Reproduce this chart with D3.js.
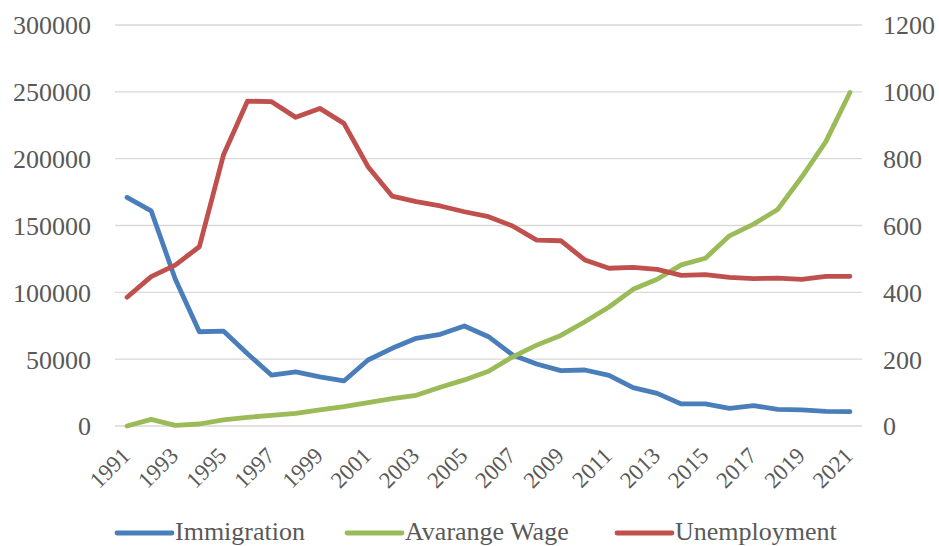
<!DOCTYPE html>
<html><head><meta charset="utf-8">
<script src="https://cdn.jsdelivr.net/npm/d3@7"></script>
<style>
html,body{margin:0;padding:0;background:#fff;}
svg{display:block;}
</style></head>
<body>
<svg id="chart" width="939" height="546"></svg>
<script>
const years = d3.range(1991, 2022);
const immigration = [171000,161000,110000,70500,71000,54000,38000,40500,36700,33700,49400,58100,65600,68600,74800,66800,53100,46400,41400,41900,37900,28700,24400,16500,16500,13200,15200,12500,12000,11000,10700];
const wage = [0,20,2,6,18,26,32,38,48,58,70,82,92,116,138,164,207,242,271,312,356,409,439,482,502,569,604,648,745,851,998];
const unemployment = [96300,111700,120400,134100,202700,243100,242600,230900,237600,226400,194000,172000,167800,164600,160300,156600,149600,139100,138600,124200,118000,118700,117200,112700,113200,111200,110200,110700,109700,112000,112000];
const leftTicks = [0,50000,100000,150000,200000,250000,300000];
const rightTicks = [0,200,400,600,800,1000,1200];
const xTickYears = years.filter((y,i)=>i%2===0);
const seriesNames = ["Immigration","Avarange Wage","Unemployment"];
const colors = ["#4A7EBB","#9BBB59","#C0504D"];

const FONT = "'Liberation Serif', 'Times New Roman', Tinos, 'DejaVu Serif', serif";
const svg = d3.select("#chart");
const plot = {left:115, right:862, top:25, bottom:426};

const x = d3.scalePoint().domain(years).range([plot.left, plot.right]).padding(0.5);
const yL = d3.scaleLinear().domain([0,300000]).range([plot.bottom, plot.top]);
const yR = d3.scaleLinear().domain([0,1200]).range([plot.bottom, plot.top]);

// gridlines
svg.append("g").selectAll("line").data(leftTicks).join("line")
  .attr("x1", plot.left).attr("x2", plot.right)
  .attr("y1", d=>yL(d)).attr("y2", d=>yL(d))
  .attr("stroke", "#d9d9d9").attr("stroke-width", 1.3);

function styleText(sel, size){
  sel.attr("font-family", FONT).style("font-family", FONT)
     .attr("font-size", size).style("font-size", size+"px")
     .attr("fill", "#595959");
}

// left axis
const axL = d3.axisLeft(yL).tickValues(leftTicks).tickSize(0).tickPadding(0).tickFormat(d3.format("d"));
const gL = svg.append("g").attr("transform", `translate(${91},0)`).call(axL).attr("font-family", FONT);
gL.select(".domain").remove();
styleText(gL.selectAll("text"), 26);
gL.selectAll("text").attr("dy", "0.34em");

// right axis
const axR = d3.axisRight(yR).tickValues(rightTicks).tickSize(0).tickPadding(0).tickFormat(d3.format("d"));
const gR = svg.append("g").attr("transform", `translate(${883},0)`).call(axR).attr("font-family", FONT);
gR.select(".domain").remove();
styleText(gR.selectAll("text"), 26);
gR.selectAll("text").attr("dy", "0.34em");

// x axis
const axX = d3.axisBottom(x).tickValues(xTickYears).tickSize(0).tickPadding(0);
const gX = svg.append("g").attr("transform", `translate(0,${plot.bottom})`).call(axX).attr("font-family", FONT);
gX.select(".domain").remove();
styleText(gX.selectAll("text"), 23);
gX.selectAll("text").attr("text-anchor", "end").attr("y", 0).attr("dy", 0)
  .attr("transform", "translate(4,31) rotate(-45)");

// lines
const mk = (scale) => d3.line().x((d,i)=>x(years[i])).y(d=>scale(d));
const data = [[immigration, yL],[wage, yR],[unemployment, yL]];
data.forEach(([vals, sc], k) => {
  svg.append("path").datum(vals).attr("d", mk(sc))
    .attr("fill","none").attr("stroke", colors[k]).attr("stroke-width", 4.8)
    .attr("stroke-linejoin","round").attr("stroke-linecap","round");
});

// legend
const legX = [117, 347, 617];
const lg = svg.append("g");
seriesNames.forEach((n,k)=>{
  lg.append("line").attr("x1", legX[k]).attr("x2", legX[k]+55).attr("y1", 533).attr("y2", 533)
    .attr("stroke", colors[k]).attr("stroke-width", 4.8).attr("stroke-linecap","round");
  const t = lg.append("text").attr("x", legX[k]+58).attr("y", 540).text(n);
  styleText(t, 26);
});
</script>
</body></html>
